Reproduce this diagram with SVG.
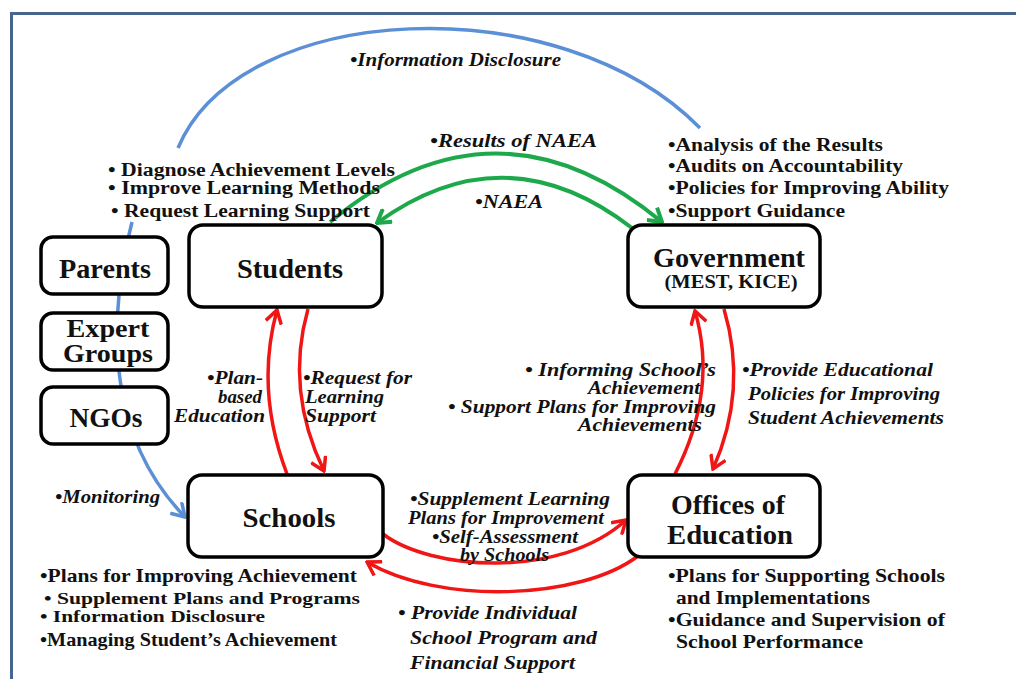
<svg xmlns="http://www.w3.org/2000/svg" width="1016" height="679" viewBox="0 0 1016 679">
<defs>
<style>
.node{fill:#fff;stroke:#000;stroke-width:3.5}
.nl{font-family:"Liberation Serif","Times New Roman",serif;font-weight:bold;font-size:28px;fill:#111;text-anchor:middle}
.b{font-family:"Liberation Serif","Times New Roman",serif;font-weight:bold;font-size:19px;fill:#111}
.i{font-family:"Liberation Serif","Times New Roman",serif;font-weight:bold;font-style:italic;font-size:19px;fill:#111}
.s{font-size:18px}
.xs{font-size:17px}
.red{fill:none;stroke:#f01616;stroke-width:3.5;marker-end:url(#ar)}
.grn{fill:none;stroke:#1ea84c;stroke-width:4;marker-end:url(#ag)}
.blu{fill:none;stroke:#5b8fd6;stroke-width:3.5}
</style>
<marker id="ar" markerUnits="userSpaceOnUse" viewBox="0 0 16 18" markerWidth="16" markerHeight="18" refX="14" refY="9" orient="auto"><path d="M1,1 L14,9 L1,17" fill="none" stroke="#f01616" stroke-width="3.5"/></marker>
<marker id="ag" markerUnits="userSpaceOnUse" viewBox="0 0 16 18" markerWidth="16" markerHeight="18" refX="14" refY="9" orient="auto"><path d="M1,1 L14,9 L1,17" fill="none" stroke="#1ea84c" stroke-width="4"/></marker>
<marker id="ab" markerUnits="userSpaceOnUse" viewBox="0 0 16 18" markerWidth="16" markerHeight="18" refX="14" refY="9" orient="auto"><path d="M1,1 L14,9 L1,17" fill="none" stroke="#5b8fd6" stroke-width="3.5"/></marker>
</defs>
<rect x="0" y="0" width="1016" height="679" fill="#fff"/>
<rect x="11.5" y="13.5" width="1020" height="690" fill="#fff" stroke="#46668f" stroke-width="3"/>

<g id="connectors">
<path class="blu" d="M178,148 C240,0 560,-15 700,128"/>
<path class="blu" d="M132,222 C105,330 110,440 185,517" marker-end="url(#ab)"/>
<path class="grn" d="M330,222 Q496,85 662,222"/>
<path class="grn" d="M632,228 Q505,130 377,223"/>
<path class="red" d="M287,474 Q255,390 277,310"/>
<path class="red" d="M308,309 Q285,390 324,471"/>
<path class="red" d="M675,474 Q718,390 695,311"/>
<path class="red" d="M724,309 Q748,390 713,469"/>
<path class="red" d="M383,534 C430,570 560,580 626,520"/>
<path class="red" d="M638,556 C580,600 440,605 367,562"/>
</g>

<g id="parents"><rect class="node" x="41" y="237" width="127" height="57" rx="12"/><text class="nl" x="105" y="278" textLength="92" lengthAdjust="spacingAndGlyphs">Parents</text></g>
<g id="expert-groups"><rect class="node" x="41" y="313" width="127" height="57" rx="12"/><text class="nl" x="108" y="337" style="font-size:25px" textLength="83" lengthAdjust="spacingAndGlyphs">Expert</text><text class="nl" x="108" y="362" style="font-size:25px" textLength="90" lengthAdjust="spacingAndGlyphs">Groups</text></g>
<g id="ngos"><rect class="node" x="41" y="387" width="127" height="57" rx="12"/><text class="nl" x="106" y="427" textLength="73" lengthAdjust="spacingAndGlyphs">NGOs</text></g>
<g id="students"><rect class="node" x="189" y="225" width="193" height="82" rx="14"/><text class="nl" x="290" y="278" textLength="106" lengthAdjust="spacingAndGlyphs">Students</text></g>
<g id="government"><rect class="node" x="628" y="225" width="192" height="82" rx="14"/><text class="nl" x="729" y="267" textLength="152" lengthAdjust="spacingAndGlyphs">Government</text><text class="nl" x="731" y="288" style="font-size:19px" textLength="133" lengthAdjust="spacingAndGlyphs">(MEST, KICE)</text></g>
<g id="schools"><rect class="node" x="188" y="475" width="195" height="82" rx="14"/><text class="nl" x="289" y="527" textLength="93" lengthAdjust="spacingAndGlyphs">Schools</text></g>
<g id="offices"><rect class="node" x="628" y="475" width="192" height="82" rx="14"/><text class="nl" x="728" y="514" textLength="114" lengthAdjust="spacingAndGlyphs">Offices of</text><text class="nl" x="730" y="544" textLength="126" lengthAdjust="spacingAndGlyphs">Education</text></g>

<g id="labels">
<text class="i" x="350" y="66" textLength="211" lengthAdjust="spacingAndGlyphs">•Information Disclosure</text>
<text class="i" x="430" y="147" textLength="167" lengthAdjust="spacingAndGlyphs">•Results of  NAEA</text>
<text class="i" x="475" y="208" textLength="68" lengthAdjust="spacingAndGlyphs">•NAEA</text>
<text class="b s" x="108" y="176" textLength="287" lengthAdjust="spacingAndGlyphs">• Diagnose Achievement Levels</text>
<text class="b s" x="108" y="194" textLength="272" lengthAdjust="spacingAndGlyphs">• Improve Learning Methods</text>
<text class="b s" x="111" y="217" textLength="259" lengthAdjust="spacingAndGlyphs">• Request Learning Support</text>
<text class="b" x="668" y="151" textLength="215" lengthAdjust="spacingAndGlyphs">•Analysis of the Results</text>
<text class="b" x="668" y="172" textLength="235" lengthAdjust="spacingAndGlyphs">•Audits on Accountability</text>
<text class="b" x="668" y="194" textLength="281" lengthAdjust="spacingAndGlyphs">•Policies for Improving Ability</text>
<text class="b" x="668" y="217" textLength="177" lengthAdjust="spacingAndGlyphs">•Support Guidance</text>
<text class="i" x="207" y="384" textLength="56" lengthAdjust="spacingAndGlyphs">•Plan-</text>
<text class="i" x="218" y="403" textLength="44" lengthAdjust="spacingAndGlyphs">based</text>
<text class="i" x="174" y="422" textLength="91" lengthAdjust="spacingAndGlyphs">Education</text>
<text class="i" x="303" y="384" textLength="109" lengthAdjust="spacingAndGlyphs">•Request for</text>
<text class="i" x="305" y="403" textLength="79" lengthAdjust="spacingAndGlyphs">Learning</text>
<text class="i" x="305" y="422" textLength="71" lengthAdjust="spacingAndGlyphs">Support</text>
<text class="i s" x="525" y="376" textLength="191" lengthAdjust="spacingAndGlyphs">• Informing  School’s</text>
<text class="i s" x="588" y="394" textLength="112" lengthAdjust="spacingAndGlyphs">Achievement</text>
<text class="i s" x="448" y="413" textLength="268" lengthAdjust="spacingAndGlyphs">• Support Plans for Improving</text>
<text class="i s" x="578" y="431" textLength="124" lengthAdjust="spacingAndGlyphs">Achievements</text>
<text class="i" x="742" y="376" textLength="191" lengthAdjust="spacingAndGlyphs">•Provide Educational</text>
<text class="i" x="748" y="400" textLength="192" lengthAdjust="spacingAndGlyphs">Policies for Improving</text>
<text class="i" x="748" y="424" textLength="196" lengthAdjust="spacingAndGlyphs">Student Achievements</text>
<text class="i" x="55" y="503" textLength="105" lengthAdjust="spacingAndGlyphs">•Monitoring</text>
<text class="i s" x="410" y="505" textLength="200" lengthAdjust="spacingAndGlyphs">•Supplement Learning</text>
<text class="i s" x="408" y="524" textLength="196" lengthAdjust="spacingAndGlyphs">Plans for Improvement</text>
<text class="i s" x="432" y="543" textLength="146" lengthAdjust="spacingAndGlyphs">•Self-Assessment</text>
<text class="i s" x="460" y="561" textLength="89" lengthAdjust="spacingAndGlyphs">by Schools</text>
<text class="b" x="40" y="582" textLength="317" lengthAdjust="spacingAndGlyphs">•Plans for Improving Achievement</text>
<text class="b xs" x="44" y="604" textLength="316" lengthAdjust="spacingAndGlyphs">• Supplement Plans and Programs</text>
<text class="b xs" x="40" y="622" textLength="225" lengthAdjust="spacingAndGlyphs">• Information Disclosure</text>
<text class="b" x="40" y="646" textLength="297" lengthAdjust="spacingAndGlyphs">•Managing Student’s Achievement</text>
<text class="i" x="398" y="619" textLength="179" lengthAdjust="spacingAndGlyphs">• Provide Individual</text>
<text class="i" x="410" y="644" textLength="187" lengthAdjust="spacingAndGlyphs">School Program and</text>
<text class="i" x="410" y="669" textLength="165" lengthAdjust="spacingAndGlyphs">Financial Support</text>
<text class="b" x="668" y="582" textLength="277" lengthAdjust="spacingAndGlyphs">•Plans for Supporting Schools</text>
<text class="b" x="676" y="604" textLength="194" lengthAdjust="spacingAndGlyphs">and Implementations</text>
<text class="b" x="668" y="626" textLength="277" lengthAdjust="spacingAndGlyphs">•Guidance and Supervision of</text>
<text class="b" x="676" y="648" textLength="187" lengthAdjust="spacingAndGlyphs">School Performance</text>
</g>
</svg>
